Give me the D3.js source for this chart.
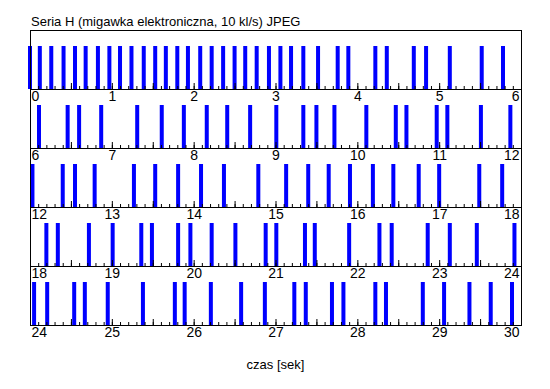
<!DOCTYPE html>
<html>
<head>
<meta charset="utf-8">
<script src="https://cdn.jsdelivr.net/npm/d3@7"></script>
<style>
  body { margin: 0; background: #fff; }
  svg { display: block; font-family: "Liberation Sans", Arial, sans-serif; }
</style>
</head>
<body>
<svg id="chart" width="550" height="389"></svg>
<script>
// dane: momenty wykonania zdjęć [s]
const frameTimes = [
  0.00, 0.12, 0.26, 0.41, 0.55, 0.68, 0.83, 0.97, 1.10, 1.24, 1.39, 1.53, 1.66, 1.80, 1.93,
  2.08, 2.22, 2.36, 2.50, 2.63, 2.77, 2.92, 3.06, 3.19, 3.34, 3.52, 3.76, 3.89, 4.22, 4.36,
  4.69, 4.84, 5.13, 5.52, 5.78,
  6.11, 6.46, 6.60, 6.87, 7.31, 7.61, 7.88, 8.16, 8.41, 8.69, 9.01, 9.34, 9.50, 9.72,
  10.11, 10.47, 10.60, 10.97, 11.10, 11.51, 11.87,
  12.03, 12.40, 12.55, 12.79, 13.27, 13.53, 13.81, 14.09, 14.37, 14.79, 15.13, 15.40,
  15.65, 15.91, 16.19, 16.44, 16.75, 17.00, 17.49, 17.77,
  18.20, 18.34, 18.72, 19.01, 19.36, 19.49, 19.81, 19.96, 20.22, 20.51, 20.88, 21.01,
  21.36, 21.48, 21.90, 22.27, 22.42, 22.86, 23.13, 23.46, 23.92,
  24.05, 24.21, 24.54, 24.67, 24.95, 25.38, 25.77, 25.89, 26.21, 26.58, 26.87, 27.23,
  27.37, 27.69, 27.83, 28.22, 28.35, 28.80, 29.06, 29.37, 29.63, 29.89
];
const rowStarts = [0, 6, 12, 18, 24];
const rowSpan = 6;
const titleText = "Seria H (migawka elektroniczna, 10 kl/s) JPEG";
const xLabel = "czas [sek]";

const svg = d3.select("#chart");
const mLeft = 30, mRight = 521, mTop = 30, rowH = 59, barH = 43, barW = 4;

// tytuł
svg.append("text")
  .attr("x", 31).attr("y", 26)
  .style("font-size", "13px")
  .text(titleText);

// wiersze
rowStarts.forEach((t0, i) => {
  const x = d3.scaleLinear().domain([t0, t0 + rowSpan]).range([mLeft, mRight]);
  const yAxis = mTop + rowH * (i + 1);
  const g = svg.append("g");

  // słupki
  g.selectAll("rect")
    .data(frameTimes.filter(t => t >= t0 && t <= t0 + rowSpan))
    .enter()
    .append("rect")
    .attr("x", d => x(d) - barW / 2)
    .attr("y", yAxis - barH)
    .attr("width", barW)
    .attr("height", barH)
    .attr("fill", "#0000ff");

  // drobne znaczniki co 0.1 s
  const minor = d3.range(0, rowSpan * 10 + 1).map(k => t0 + k / 10);
  const ax = g.append("g").attr("transform", `translate(0,${yAxis})`);
  ax.call(d3.axisBottom(x).tickValues(minor).tickSize(-3).tickFormat("").tickSizeOuter(0));
  // znaczniki co 0.5 s
  ax.append("g").call(
    d3.axisBottom(x).tickValues(d3.range(0, rowSpan * 2 + 1).map(k => t0 + k / 2))
      .tickSize(-6).tickFormat("").tickSizeOuter(0));
  // etykiety
  const lab = g.append("g").attr("transform", `translate(0,${yAxis})`)
    .call(d3.axisBottom(x).ticks(rowSpan).tickSize(0).tickPadding(2).tickSizeOuter(0));
  lab.select(".domain").remove();
  lab.selectAll("text").style("font-size", "14px").attr("fill", "#000");
  lab.selectAll(".tick").filter(d => d === t0).select("text")
    .attr("text-anchor", "start").attr("dx", 1);
  lab.selectAll(".tick").filter(d => d === t0 + rowSpan).select("text")
    .attr("text-anchor", "end").attr("dx", -2);

  ax.selectAll(".domain").attr("stroke", "#000");
  ax.selectAll("line").attr("stroke", "#000");
});

// ramka
svg.append("rect")
  .attr("x", mLeft + 0.5).attr("y", mTop + 0.5)
  .attr("width", mRight - mLeft).attr("height", rowH * rowStarts.length)
  .attr("fill", "none").attr("stroke", "#000");

// opis osi
svg.append("text")
  .attr("x", (mLeft + mRight) / 2).attr("y", 369)
  .attr("text-anchor", "middle")
  .style("font-size", "13px")
  .text(xLabel);
</script>
</body>
</html>
